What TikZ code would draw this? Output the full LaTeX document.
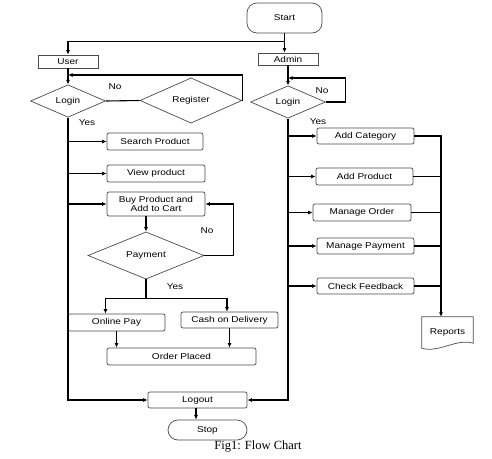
\documentclass[tikz,border=0pt]{standalone}
\usepackage{fontspec}
\setmainfont{Liberation Sans}[FakeStretch=1.18]
\newfontfamily\capfont{Liberation Serif}
\usepackage{tikz}
\usetikzlibrary{shapes,arrows.meta}
\newcommand{\boxfont}{\fontsize{8.5}{9.5}\selectfont}
\tikzset{>={Latex[length=4.5pt,width=4pt]}, wire/.style={draw,line width=1.1pt},
	flow/.style={wire,->}}
\tikzstyle{terminal}=[rectangle,rounded corners=10pt,draw=black!70,fill=white,line width=0.7pt,inner sep=0pt,minimum width=75pt,minimum height=30pt,font=\boxfont]
\tikzstyle{entity}=[rectangle,draw=black!70,fill=white,line width=0.7pt,inner sep=0pt,minimum width=60pt,minimum height=13pt,font=\boxfont]
\tikzstyle{process}=[rectangle,rounded corners=2pt,draw=black!70,fill=white,line width=0.7pt,inner sep=0pt,minimum width=97pt,minimum height=17pt,font=\boxfont,align=center]
\tikzstyle{decision}=[diamond,draw=black!70,fill=white,line width=0.7pt,inner sep=0pt,minimum width=75pt,minimum height=30pt,font=\boxfont]
\tikzstyle{answer}=[inner sep=0pt,font=\boxfont]

\begin{document}
\begin{tikzpicture}[x=1pt,y=-1pt]
		\useasboundingbox (0,0) rectangle (492,458);
		\node at (284.5,18) [terminal] (start) {Start};
		\node at (68,61.5) [entity] (user) {User};
		\node at (288,59) [entity,minimum height=12pt] (admin) {Admin};
		% user side
		\node at (68,101) [decision] (ulogin) {Login};
		\node at (191,100.5) [decision,minimum width=102pt,minimum height=37pt] (register) {Register};
		\node at (155,141.5) [process,minimum width=96pt] (search) {Search Product};
		\node at (156,173.5) [process,minimum width=98pt] (view) {View product};
		\node at (156,204) [process,minimum width=98pt,minimum height=24pt] (buy) {Buy Product and\\Add to Cart};
		\node at (146,255.5) [decision,minimum width=116pt,minimum height=47pt] (payment) {Payment};
		\node at (116.5,322.5) [process] (online) {Online Pay};
		\node at (229.5,320) [process,minimum height=16pt] (cash) {Cash on Delivery};
		\node at (181.5,356.5) [process,minimum width=149pt] (placed) {Order Placed};
		\node at (197.5,400) [process,minimum width=99pt,minimum height=16pt] (logout) {Logout};
		\node at (207.5,430) [terminal,minimum width=79pt,minimum height=20pt] (stop) {Stop};
		% admin side
		\node at (288,102) [decision] (alogin) {Login};
		\node at (365.5,136) [process,minimum height=16pt] (addcat) {Add Category};
		\node at (364.5,176.5) [process] (addprod) {Add Product};
		\node at (362,212.5) [process,minimum width=98pt] (morder) {Manage Order};
		\node at (365.5,246) [process,minimum height=16pt] (mpay) {Manage Payment};
		\node at (365.5,286) [process,minimum height=16pt] (feedback) {Check Feedback};
		\node at (447.5,332.5) [minimum width=51pt,minimum height=31pt,inner sep=0pt,font=\boxfont] (reports) {Reports};
		\draw [draw=black!70,line width=0.7pt] (reports.north west) -- (reports.north east) -- ([yshift=5pt]reports.south east)
			.. controls +(-17,-5) and +(17,5) .. (reports.south west) -- cycle;
		% labels
		\node at (115,87) [answer] (uno) {No};
		\node at (87,123) [answer] (uyes) {Yes};
		\node at (207,231) [answer] (pno) {No};
		\node at (175,287) [answer] (pyes) {Yes};
		\node at (322,91) [answer] (ano) {No};
		\node at (318,122) [answer] (ayes) {Yes};
		\node at (258,447) [inner sep=0pt,font=\capfont\fontsize{12.5}{13}\selectfont] (caption) {Fig1: Flow Chart};
		\coordinate (uback) at (68,75);
		\coordinate (aback) at (288,78);
		\coordinate (rline) at ([xshift=-6.5pt]reports.north);
		% start
		\draw [flow] (start.south) -- ++(0,8) -| (user.north);
		\draw [flow] (start.south) -- (start.south |- admin.north);
		% user flow
		\draw [flow] (user.south) -- (ulogin.north);
		\draw [wire] (ulogin.east) -- (register.west);
		\draw [flow] (register.east) -- (register.east |- uback) -- (uback);
		\draw [flow] (ulogin.south) |- (logout.west);
		\draw [flow] (ulogin.south |- search) -- (search);
		\draw [flow] (ulogin.south |- view) -- (view);
		\draw [flow] (ulogin.south |- buy) -- (buy);
		\draw [flow] (payment.north |- buy.south) -- (payment.north);
		\draw [flow] (payment.east) -- ++(29,0) |- (buy.east);
		\draw [wire] (payment.south) -- ++(0,19) coordinate (pj);
		\draw [flow] (pj) -| ([xshift=-11pt]online.north);
		\draw [flow] (pj) -| ([xshift=-2.5pt]cash.north);
		\draw [flow] (online.south) -- (online.south |- placed.north);
		\draw [flow] (cash.south) -- (cash.south |- placed.north);
		\draw [flow] ([xshift=-1.5pt]logout.south) -- ([xshift=-1.5pt]logout.south |- stop.north);
		% admin flow
		\draw [flow] (admin.south) -- (alogin.north);
		\draw [flow] (alogin.east) -- ++(20,0) -- ++(0,-24) -- (aback);
		\draw [flow] (alogin.south) |- (logout.east);
		\draw [flow] (alogin.south |- addcat) -- (addcat);
		\draw [flow] (alogin.south |- addprod) -- (addprod);
		\draw [flow] (alogin.south |- morder) -- (morder);
		\draw [flow] (alogin.south |- mpay) -- (mpay);
		\draw [flow] (alogin.south |- feedback) -- (feedback);
		\draw [flow] (addcat.east) -| (rline);
		\draw [wire] (addprod.east) -- (addprod.east -| rline);
		\draw [wire] (morder.east) -- (morder.east -| rline);
		\draw [wire] (mpay.east) -- (mpay.east -| rline);
		\draw [wire] (feedback.east) -- (feedback.east -| rline);
		\end{tikzpicture}
\end{document}
